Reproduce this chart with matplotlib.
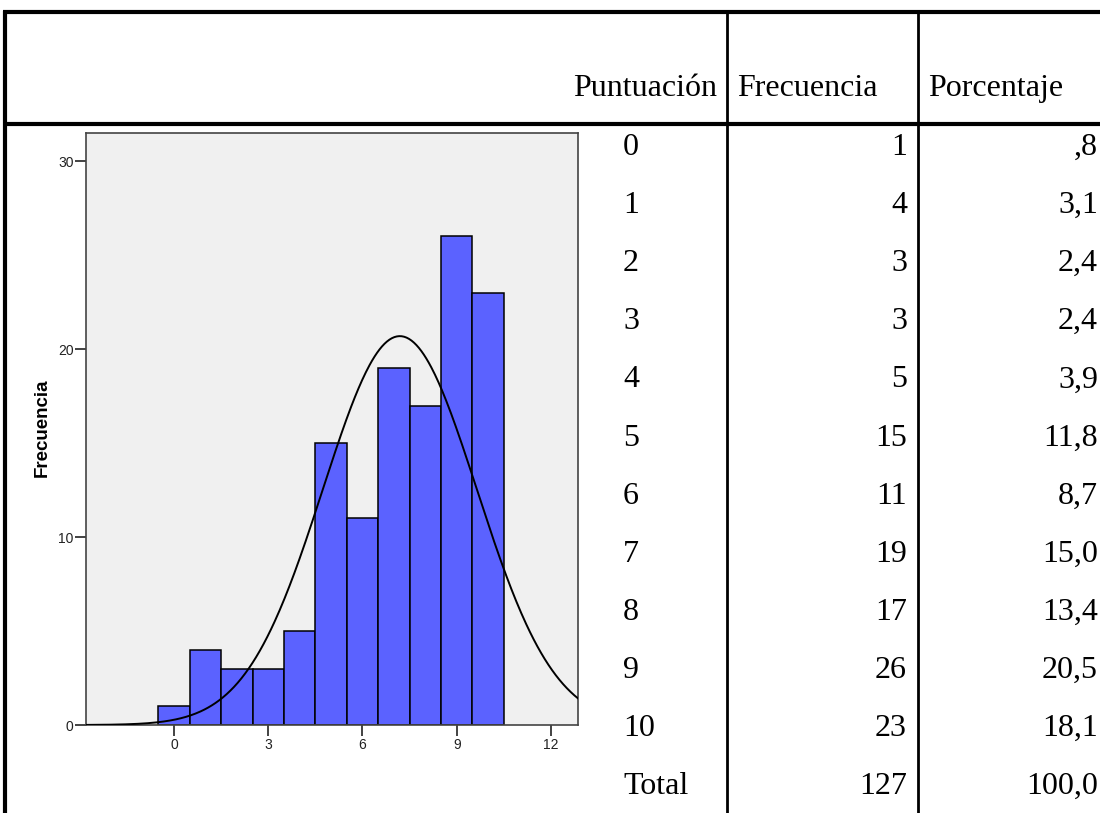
import numpy as np
import matplotlib
matplotlib.use("Agg")
import matplotlib.pyplot as plt

# ---- data ----
scores = [0, 1, 2, 3, 4, 5, 6, 7, 8, 9, 10]
freqs = [1, 4, 3, 3, 5, 15, 11, 19, 17, 26, 23]
percent_labels = [",8", "3,1", "2,4", "2,4", "3,9", "11,8", "8,7", "15,0", "13,4", "20,5", "18,1"]
total_label = "Total"
total_freq = "127"
total_pct = "100,0"
headers = ["Puntuación", "Frecuencia", "Porcentaje"]
xticks = [0, 3, 6, 9, 12]
yticks = [0, 10, 20, 30]

W, H = 1100, 813
fig = plt.figure(figsize=(W / 100, H / 100), dpi=100)

# overlay axes in pixel coordinates for the table
ov = fig.add_axes([0, 0, 1, 1])
ov.set_xlim(0, W)
ov.set_ylim(H, 0)
ov.axis("off")

lw_thick = 3.0
lw_thin = 2.0
ov.plot([3, W], [12, 12], color="black", lw=lw_thick, solid_capstyle="butt")
ov.plot([3, W], [124, 124], color="black", lw=lw_thick, solid_capstyle="butt")
ov.plot([5, 5], [11, H], color="black", lw=lw_thick, solid_capstyle="butt")
ov.plot([727, 727], [12, H], color="black", lw=lw_thin, solid_capstyle="butt")
ov.plot([918, 918], [12, H], color="black", lw=lw_thin, solid_capstyle="butt")

fs = 23
ffam = "Liberation Serif"
ov.text(717, 96, headers[0], ha="right", va="baseline", fontsize=fs, family=ffam)
ov.text(737, 96, headers[1], ha="left", va="baseline", fontsize=fs, family=ffam)
ov.text(928, 96, headers[2], ha="left", va="baseline", fontsize=fs, family=ffam)

row0 = 155
step = 58.1
for i, (s, f, p) in enumerate(zip(scores, freqs, percent_labels)):
    yb = row0 + step * i
    ov.text(623, yb, str(s), ha="left", va="baseline", fontsize=fs, family=ffam)
    ov.text(907, yb, str(f), ha="right", va="baseline", fontsize=fs, family=ffam)
    ov.text(1098, yb, p, ha="right", va="baseline", fontsize=fs, family=ffam)
yb = row0 + step * len(scores)
ov.text(623, yb, total_label, ha="left", va="baseline", fontsize=fs, family=ffam)
ov.text(907, yb, total_freq, ha="right", va="baseline", fontsize=fs, family=ffam)
ov.text(1098, yb, total_pct, ha="right", va="baseline", fontsize=fs, family=ffam)

# ---- histogram axes ----
left, right, top, bottom = 86, 578, 133, 725
ax = fig.add_axes([left / W, 1 - bottom / H, (right - left) / W, (bottom - top) / H])
ax.set_facecolor("#F0F0F0")
ax.bar(scores, freqs, width=1.0, color="#5B62FF", edgecolor="black", linewidth=1.1, zorder=2)

n = sum(freqs)
vals = np.repeat(scores, freqs)
mu = vals.mean()
sd = vals.std(ddof=1)
xlim = (-2.80, 12.86)
xs = np.linspace(xlim[0], xlim[1], 400)
ys = n * 1.0 / (sd * np.sqrt(2 * np.pi)) * np.exp(-0.5 * ((xs - mu) / sd) ** 2)
ax.plot(xs, ys, color="black", lw=1.4, zorder=3)

ax.set_xlim(*xlim)
ax.set_ylim(0, 31.5)
ax.set_xticks(xticks)
ax.set_yticks(yticks)
ax.tick_params(axis="both", direction="out", length=8, width=1.2, colors="#222222",
               labelsize=10, pad=1)
for lab in ax.get_xticklabels() + ax.get_yticklabels():
    lab.set_family("Liberation Sans")
    lab.set_stretch("condensed")
for sp in ax.spines.values():
    sp.set_color("#444444")
    sp.set_linewidth(1.2)

fig.text(42 / W, 1 - 428 / H, "Frecuencia", rotation=90, ha="center", va="center",
         fontsize=13.5, fontweight="bold", family="Liberation Sans")

fig.savefig("out.png", dpi=100)
